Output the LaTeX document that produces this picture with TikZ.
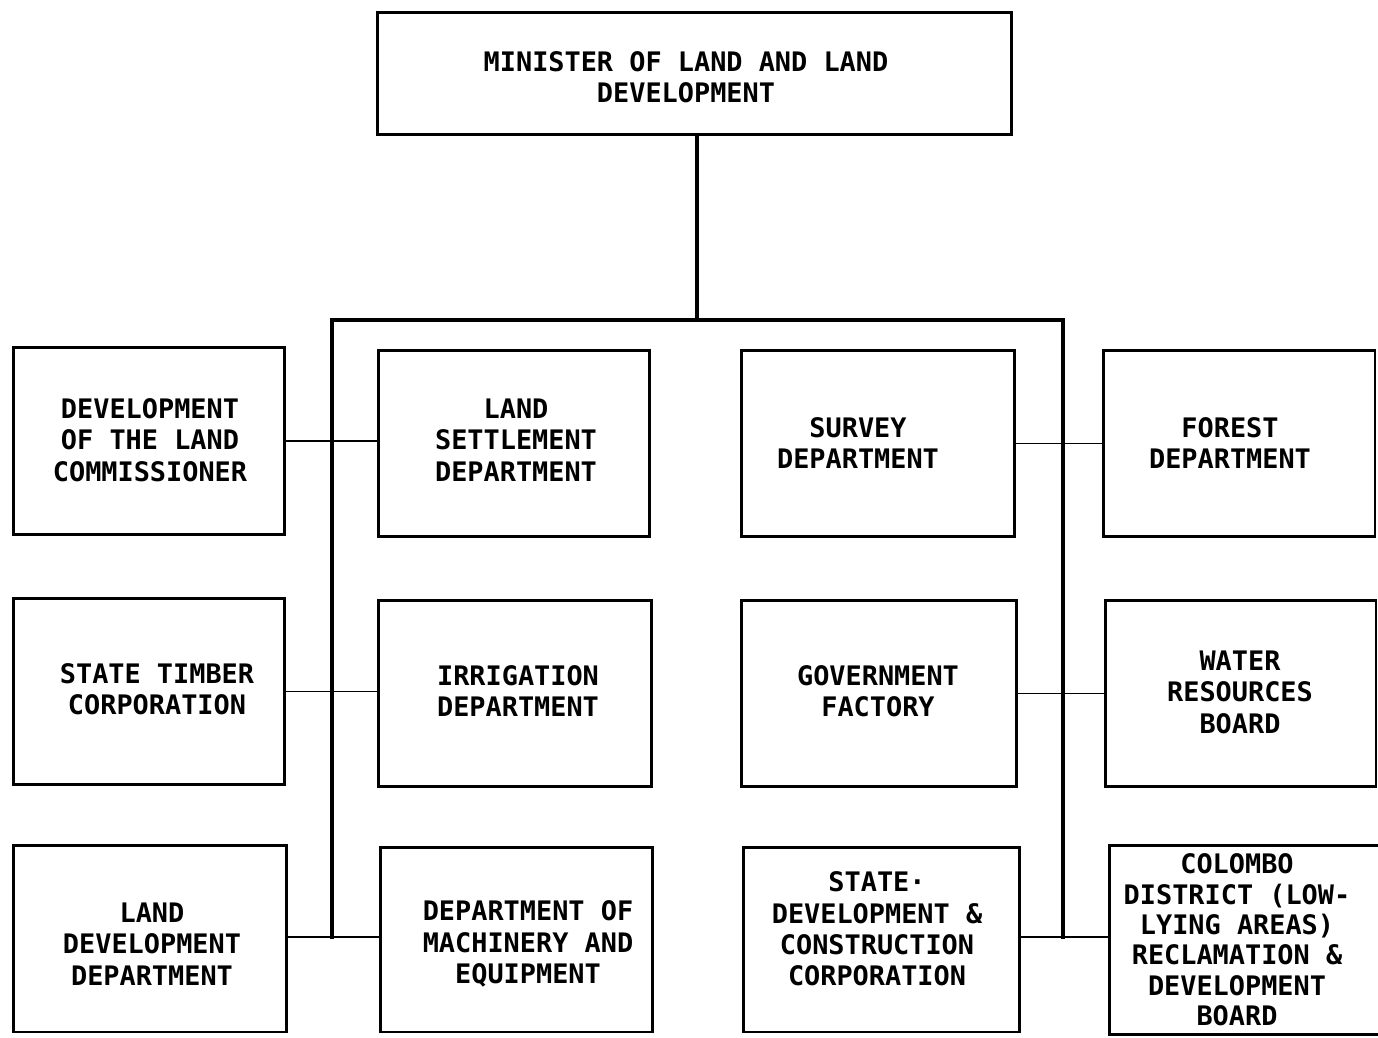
\documentclass[tikz,border=0pt]{standalone}
\usepackage{fontspec}
\newfontfamily\typ{DejaVu Sans Mono}
\tikzset{
  box/.style={draw, line width=1.7pt, inner sep=0pt},
  lbl/.style={align=center, inner sep=0pt, font=\typ\bfseries\fontsize{15.3}{17.9}\selectfont},
  trunk/.style={line width=1.8pt, line cap=rect},
  link/.style={line width=0.9pt}
}
\begin{document}
\begin{tikzpicture}[x=0.02cm, y=-0.02cm]
\useasboundingbox (0,0) rectangle (1378,1037);
% boxes
\node[box, minimum width=12.70cm, minimum height=2.46cm] (top) at (694.5,73.5) {};
\node[box, minimum width=5.44cm, minimum height=3.76cm] (b11) at (149,441) {};
\node[box, minimum width=5.44cm, minimum height=3.74cm] (b12) at (514,443.5) {};
\node[box, minimum width=5.48cm, minimum height=3.74cm] (b13) at (878,443.5) {};
\node[box, minimum width=5.44cm, minimum height=3.74cm] (b14) at (1239,443.5) {};
\node[box, minimum width=5.44cm, minimum height=3.74cm] (b21) at (149,691.5) {};
\node[box, minimum width=5.48cm, minimum height=3.74cm] (b22) at (515,693.5) {};
\node[box, minimum width=5.52cm, minimum height=3.74cm] (b23) at (879,693.5) {};
\node[box, minimum width=5.42cm, minimum height=3.74cm] (b24) at (1240.5,693.5) {};
\node[box, minimum width=5.48cm, minimum height=3.74cm] (b31) at (150,938.5) {};
\node[box, minimum width=5.46cm, minimum height=3.70cm] (b32) at (516.5,939.5) {};
\node[box, minimum width=5.54cm, minimum height=3.70cm] (b33) at (881.5,939.5) {};
\node[inner sep=0pt, minimum width=5.80cm, minimum height=3.76cm] (b34) at (1255,940) {};
\draw[line width=1.7pt] (b34.north east) -- (b34.north west) -- (b34.south west) -- (b34.south east);
% texts
\node[lbl] (t0) at (686,77) {MINISTER OF LAND AND LAND\\DEVELOPMENT};
\node[lbl] (t11) at (150,440) {DEVELOPMENT\\OF THE LAND\\COMMISSIONER};
\node[lbl] (t12) at (516,440) {LAND\\SETTLEMENT\\DEPARTMENT};
\node[lbl] (t13) at (858,443) {SURVEY\\DEPARTMENT};
\node[lbl] (t14) at (1230,443) {FOREST\\DEPARTMENT};
\node[lbl] (t21) at (157,689) {STATE TIMBER\\CORPORATION};
\node[lbl] (t22) at (518,691) {IRRIGATION\\DEPARTMENT};
\node[lbl] (t23) at (878,691) {GOVERNMENT\\FACTORY};
\node[lbl] (t24) at (1240,692) {WATER\\RESOURCES\\BOARD};
\node[lbl] (t31) at (152,944) {LAND\\DEVELOPMENT\\DEPARTMENT};
\node[lbl] (t32) at (528,944) {DEPARTMENT OF\\MACHINERY AND\\EQUIPMENT};
\node[lbl] (t33) at (877,929) {STATE·\\DEVELOPMENT \&\\CONSTRUCTION\\CORPORATION};
\node[lbl, font=\typ\bfseries\fontsize{15.3}{17.3}\selectfont] (t34) at (1237,940) {COLOMBO\\DISTRICT (LOW-\\LYING AREAS)\\RECLAMATION \&\\DEVELOPMENT\\BOARD};
% trunk
\coordinate (bl) at (332,320);
\coordinate (br) at (1063,320);
\coordinate (lbot) at (332,937);
\coordinate (rbot) at (1063,937);
\coordinate (tj) at (697,320);
\draw[trunk] (top.south -| tj) -- (tj);
\draw[trunk] (lbot) -- (bl) -- (br) -- (rbot);
% links
\draw[link] (b11.east) -- (b11.east -| b12.west);
\draw[link] (b13.east) -- (b13.east -| b14.west);
\draw[link] (b21.east) -- (b21.east -| b22.west);
\draw[link] (b23.east) -- (b23.east -| b24.west);
\draw[link] (b31.east |- lbot) -- (lbot) -- (lbot -| b32.west);
\draw[link] (b33.east |- rbot) -- (rbot) -- (rbot -| b34.west);
\end{tikzpicture}
\end{document}
